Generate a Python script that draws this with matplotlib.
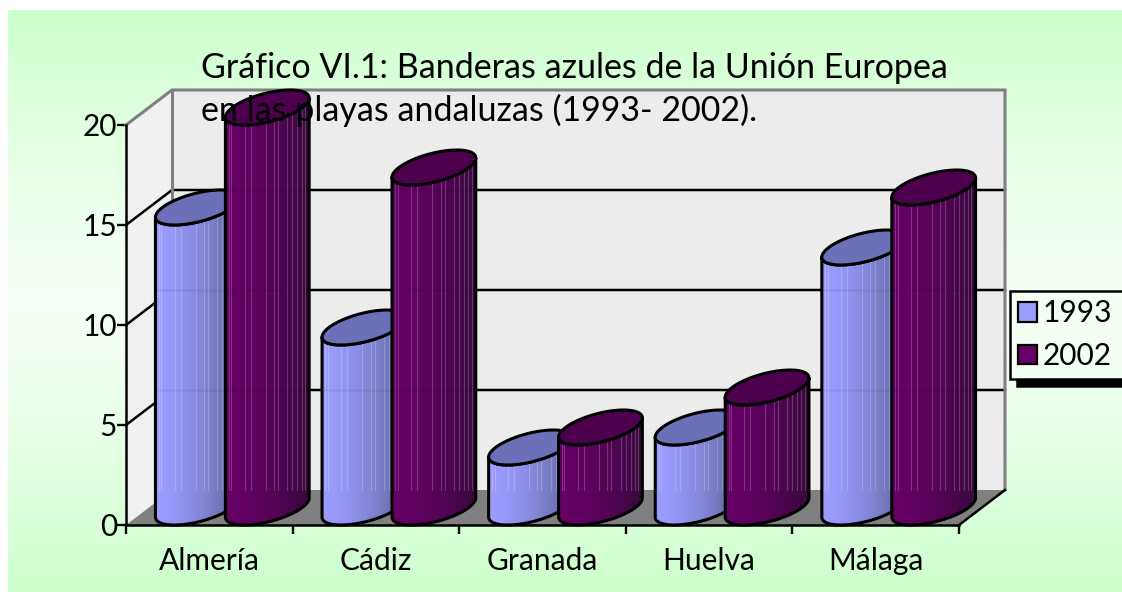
import numpy as np
import matplotlib
matplotlib.use('Agg')
import matplotlib.pyplot as plt
from matplotlib.patches import Polygon, Patch
from matplotlib.colors import to_rgb

categories = ['Almería', 'Cádiz', 'Granada', 'Huelva', 'Málaga']
years = ['1993', '2002']
flags_1993 = [15, 9, 3, 4, 13]
flags_2002 = [20, 17, 4, 6, 16]
y_ticks = [0, 5, 10, 15, 20]
title_lines = ['Gráfico VI.1: Banderas azules de la Unión Europea',
               'en las playas andaluzas (1993- 2002).']

W, H = 1122, 592
plt.rcParams['font.family'] = ['Lato', 'DejaVu Sans']
plt.rcParams['hatch.linewidth'] = 0.3

fig = plt.figure(figsize=(W / 100, H / 100), dpi=100, facecolor='white')

# background gradient, green at both ends and almost white in the middle
bg = fig.add_axes([8 / W, 0, (W - 8) / W, (H - 10) / H], zorder=0)
t = np.abs(np.linspace(-1, 1, 300)) ** 1.3
top_c = np.array(to_rgb('#CCFFCC'))
mid_c = np.array(to_rgb('#F6FFF6'))
grad = (mid_c + (top_c - mid_c) * t[:, None])[:, None, :]
bg.imshow(grad, aspect='auto')
bg.axis('off')

# front plane of the chart
ax = fig.add_axes([126 / W, 1 - 525 / H, 833 / W, 400 / H], zorder=1)
ax.patch.set_visible(False)
for s in ['top', 'right']:
    ax.spines[s].set_visible(False)
for s in ['left', 'bottom']:
    ax.spines[s].set_linewidth(1.8)
    ax.spines[s].set_zorder(50)

# depth of the fake 3d box, in data units
dx = 46 / 833 * 5
dy = 35 / 400 * 20
n = len(categories)
ymax = y_ticks[-1]

ax.add_patch(Polygon([(0, 0), (dx, dy), (dx, ymax + dy), (0, ymax)], fc='#F3F3F3', ec='#E8E8E8', lw=0, hatch='||||||||', clip_on=False, zorder=1))
ax.add_patch(Polygon([(dx, dy), (n + dx, dy), (n + dx, ymax + dy), (dx, ymax + dy)], fc='#EEEEEE', ec='#E6E6E6', lw=0, hatch='||||||||', clip_on=False, zorder=1))
ax.add_patch(Polygon([(0, 0), (n, 0), (n + dx, dy), (dx, dy)], fc='#808080', ec='none', clip_on=False, zorder=2))

for v in y_ticks[1:-1]:
    ax.plot([0, dx, n + dx], [v, v + dy, v + dy], color='black', lw=1.8, clip_on=False, zorder=3)
ax.plot([0, dx, n + dx, n + dx], [ymax, ymax + dy, ymax + dy, dy], color='#808080', lw=2.2, clip_on=False, zorder=3, solid_joinstyle='miter')
ax.plot([dx, dx], [dy, ymax + dy], color='#808080', lw=2.2, clip_on=False, zorder=3)
ax.plot([n, n + dx], [0, dy], color='black', lw=1.8, clip_on=False, zorder=3)

# cylinders
width = 0.42
half_w = width / 2
R = np.hypot(half_w, dx / 2)
t_r = np.arctan2(dx / 2, half_w)
stripes = [0.04, 0.07, 0.23, 0.3, 0.48, 0.58, 0.63, 0.74, 0.8, 0.86, 0.91, 0.95]


def ellipse_pts(xf, v, ts):
    x = xf + half_w + dx / 2 + half_w * np.cos(ts) + dx / 2 * np.sin(ts)
    y = v + dy / 2 + dy / 2 * np.sin(ts)
    return np.column_stack([x, y])


def cylinder(xf, v, left_c, right_c, cap_c, z):
    arc = np.linspace(t_r, t_r - np.pi, 80)
    body_pts = np.vstack([ellipse_pts(xf, 0, arc), ellipse_pts(xf, v, arc)[::-1]])
    body = Polygon(body_pts, fc='none', ec='black', lw=2.2, clip_on=False, zorder=z + 0.3, joinstyle='round')
    ax.add_patch(body)
    cx = xf + half_w + dx / 2

    # colour holds on the lit side and falls off to the right
    ramp = (np.linspace(0, 1, 128) ** 1.6)[:, None]
    colors = np.array(to_rgb(left_c)) + (np.array(to_rgb(right_c)) - np.array(to_rgb(left_c))) * ramp
    im = ax.imshow(colors[None, :, :], extent=(cx - R, cx + R, -dy, v + dy), aspect='auto', zorder=z, interpolation='bilinear')
    clip = Polygon(body_pts, transform=ax.transData)
    im.set_clip_box(fig.bbox)
    im.set_clip_path(clip)

    # thin light stripes, they stop where the floor starts
    if v > dy:
        for f in stripes:
            xs = cx - R + 2 * R * f
            ln, = ax.plot([xs, xs], [dy, v + dy], color='white', alpha=0.2, lw=0.8, zorder=z + 0.1)
            ln.set_clip_box(None)
            ln.set_clip_path(clip)
    for g in y_ticks[1:-1]:
        ln, = ax.plot([cx - R, cx + R], [g + dy, g + dy], color='black', alpha=0.06, lw=1.8, zorder=z + 0.1)
        ln.set_clip_box(None)
        ln.set_clip_path(clip)

    cap = ellipse_pts(xf, v, np.linspace(0, 2 * np.pi, 120))
    ax.add_patch(Polygon(cap, fc=cap_c, ec='black', lw=2.2, clip_on=False, zorder=z + 0.4))


for i in range(n):
    x0 = i + 0.5 - width
    cylinder(x0, flags_1993[i], '#9C9CFF', '#5F6399', '#6C70B8', 10 + i * 2)
    cylinder(x0 + width, flags_2002[i], '#660066', '#38083C', '#4C004E', 11 + i * 2)

ax.set_xlim(0, 5)
ax.set_ylim(0, 20)
ax.set_xticks(range(n + 1))
ax.set_xticklabels([])
ax.set_xticks(np.arange(n) + 0.5, categories, minor=True)
ax.set_yticks(y_ticks)
ax.tick_params(axis='both', which='major', direction='out', length=6.5, width=1.7, labelsize=21.5, pad=0)
ax.tick_params(axis='x', which='minor', length=0, labelsize=21.5, pad=16)

# title sits over the bars
for line, y in zip(title_lines, [78, 121]):
    fig.text(201 / W, 1 - y / H, line, fontsize=24.5, ha='left', va='baseline', color='black', zorder=60)

# legend box runs off the right edge of the picture
handles = [Patch(fc='#9C9CFF', ec='black', lw=1.6), Patch(fc='#660066', ec='black', lw=1.6)]
leg = fig.legend(handles, years, loc='upper left', bbox_to_anchor=(1010 / W, 1 - 291 / H, 130 / W, 0), mode='expand',
                 fontsize=21.5, frameon=True, fancybox=False, edgecolor='black', facecolor='#F4FFF4', framealpha=1,
                 shadow={'color': 'black', 'alpha': 1, 'ox': 5, 'oy': -5},
                 handlelength=0.62, handleheight=0.62, handletextpad=0.2, labelspacing=0.5,
                 borderpad=0.28, borderaxespad=0)
leg.get_frame().set_linewidth(1.8)
leg.set_zorder(70)

fig.savefig('out.png', dpi=100)
